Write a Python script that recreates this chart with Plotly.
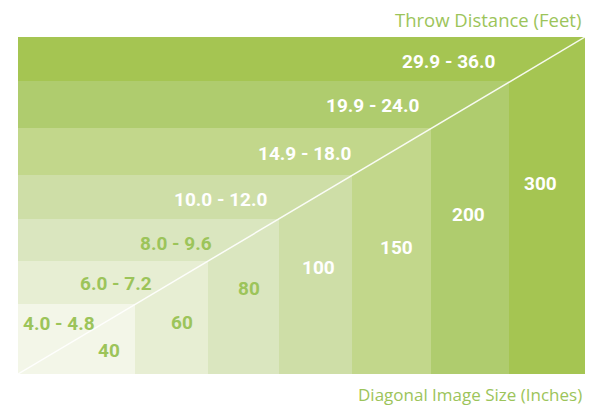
import plotly.graph_objects as go

# ---- data ----
image_sizes = ["40", "60", "80", "100", "150", "200", "300"]           # diagonal image size (inches)
throw_ranges = ["4.0 - 4.8", "6.0 - 7.2", "8.0 - 9.6", "10.0 - 12.0",
                "14.9 - 18.0", "19.9 - 24.0", "29.9 - 36.0"]           # throw distance (feet)
# footprint of each nested rectangle in schematic units
box_width = [117.5, 190.5, 261.5, 334.5, 413.5, 491.5, 568.0]
box_height = [70.0, 113.5, 155.5, 199.0, 246.0, 293.0, 337.0]

# ---- styles ----
fills = ["#f3f6e8", "#e7eed3", "#dae6bf", "#cedea7", "#c2d78b", "#afcc6e", "#a5c552"]
label_col = ["#9cc45a", "#9cc45a", "#9cc45a", "white", "white", "white", "white"]
throw_col = ["#9cc45a", "#9cc45a", "#9cc45a", "white", "white", "white", "white"]
# label anchor offsets (schematic units)
size_pos = [(91.5, 24), (164.5, 52), (231.5, 86), (301.5, 107), (379.5, 127), (451.5, 160), (523.5, 191)]
throw_pos = [(79, 51), (136, 91), (196, 131), (251, 175), (336, 221), (404, 269), (480, 313)]

TITLE_GREEN = "#9cc45a"
BOLD_FONT = "Roboto, sans-serif"

fig = go.Figure()
order = list(range(len(image_sizes)))[::-1]
for i in order:
    fig.add_trace(go.Bar(
        x=[box_width[i] / 2], y=[box_height[i]], width=[box_width[i]], base=0,
        marker=dict(color=fills[i], line=dict(width=0)),
        hoverinfo="skip", showlegend=False,
    ))

# diagonal white line corner to corner
fig.add_trace(go.Scatter(
    x=[0, box_width[-1]], y=[0, box_height[-1]], mode="lines",
    line=dict(color="rgba(255,255,255,0.9)", width=1.5),
    hoverinfo="skip", showlegend=False,
))

for i, lab in enumerate(image_sizes):
    fig.add_annotation(x=size_pos[i][0], y=size_pos[i][1], text="<b>%s</b>" % lab,
                       showarrow=False, xanchor="center", yanchor="middle",
                       font=dict(family=BOLD_FONT, size=19, color=label_col[i]))
for i, lab in enumerate(throw_ranges):
    fig.add_annotation(x=throw_pos[i][0], y=throw_pos[i][1], text="<b>%s</b>" % lab,
                       showarrow=False, xanchor="right", yanchor="middle",
                       font=dict(family=BOLD_FONT, size=19, color=throw_col[i]))

fig.add_annotation(xref="paper", yref="paper", x=1.0, y=1.0, yshift=18, xshift=-2,
                   text="Throw Distance (Feet)", showarrow=False,
                   xanchor="right", yanchor="middle",
                   font=dict(family="Open Sans, sans-serif", size=18.5, color=TITLE_GREEN))
fig.add_annotation(xref="paper", yref="paper", x=1.0, y=0.0, yshift=-20, xshift=-1,
                   text="Diagonal Image Size (Inches)", showarrow=False,
                   xanchor="right", yanchor="middle",
                   font=dict(family="Open Sans, sans-serif", size=17, color=TITLE_GREEN))

fig.update_layout(
    width=595, height=406,
    margin=dict(l=17.5, r=9.5, t=37, b=32),
    paper_bgcolor="white", plot_bgcolor="white",
    barmode="overlay", bargap=0,
    xaxis=dict(range=[0, box_width[-1]], visible=False, fixedrange=True),
    yaxis=dict(range=[0, box_height[-1]], visible=False, fixedrange=True),
)

fig.write_html("out.html", config={"displayModeBar": False},
               post_script="document.body.style.margin='0';document.body.style.overflow='hidden';")
